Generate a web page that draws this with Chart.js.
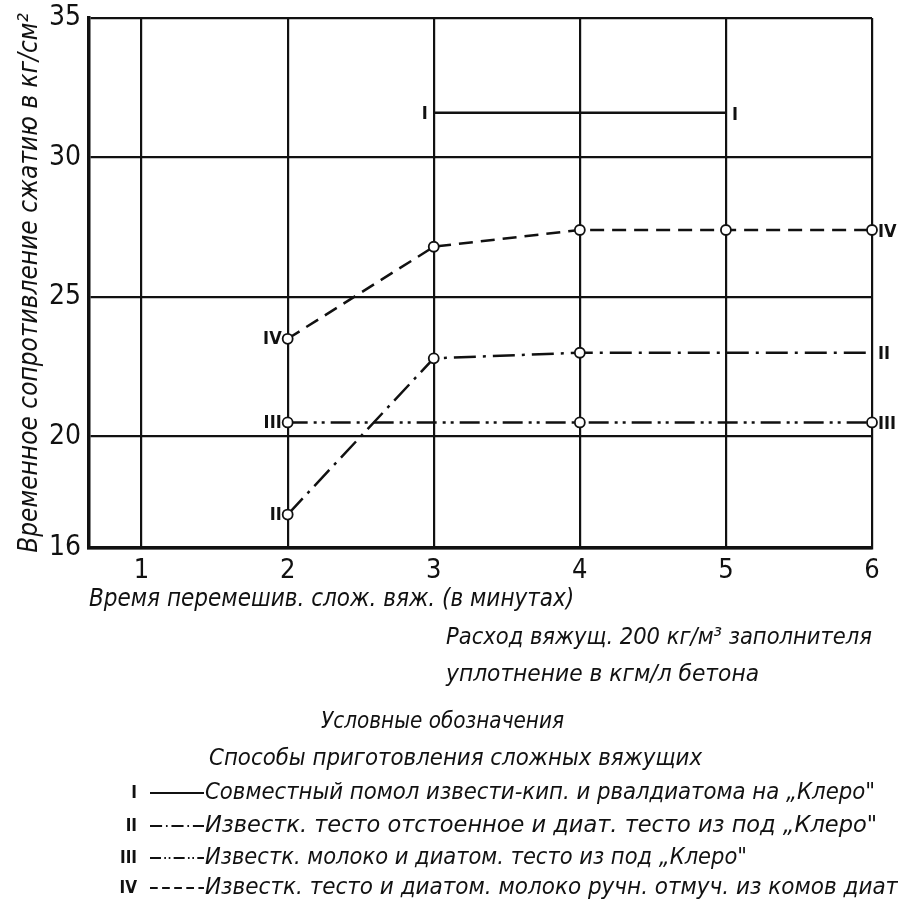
<!DOCTYPE html>
<html>
<head>
<meta charset="utf-8">
<script src="https://cdn.jsdelivr.net/npm/chart.js@4/dist/chart.umd.min.js"></script>
<style>
  html, body { margin: 0; padding: 0; background: #fff; }
  #wrap { width: 898px; height: 904px; }
</style>
</head>
<body>
<div id="wrap"><canvas id="strengthChart" width="898" height="904"></canvas></div>
<script>
// mixing time (minutes) and strength ticks
const mixTimes = [1, 2, 3, 4, 5, 6];
const strengthTicks = [16, 20, 25, 30, 35];

// series I - IV
const timeI = [3, 5];
const strengthI = [31.6, 31.6];
const timeII = [2, 3, 4, 5, 6];
const strengthII = [17.2, 22.8, 23.0, 23.0, 23.0];
const markII = [1, 1, 1, 0, 0];
const timeIII = [2, 4, 6];
const strengthIII = [20.5, 20.5, 20.5];
const markIII = [1, 1, 1];
const timeIV = [2, 3, 4, 5, 6];
const strengthIV = [23.5, 26.8, 27.4, 27.4, 27.4];
const markIV = [1, 1, 1, 1, 1];

const seriesNames = ["I", "II", "III", "IV"];
const seriesDash = [[], [22, 7, 3, 7], [20, 6, 3, 5, 3, 6], [14, 8]];
const legendTexts = [
  "Совместный помол извести-кип. и рвалдиатома на „Клеро\"",
  "Известк. тесто отстоенное и диат. тесто из под „Клеро\"",
  "Известк. молоко и диатом. тесто из под „Клеро\"",
  "Известк. тесто и диатом. молоко ручн. отмуч. из комов диат."
];

const handFont = "'DejaVu Sans Condensed', 'Liberation Sans Narrow', sans-serif";
const tickFont = "'Liberation Sans Narrow', 'DejaVu Sans Condensed', sans-serif";

function points(xs, ys) {
  return xs.map((x, i) => ({ x: x, y: ys[i] }));
}

function lineDataset(idx, xs, ys, marks) {
  return {
    label: seriesNames[idx],
    data: points(xs, ys),
    borderColor: "#111",
    borderWidth: 2.5,
    borderDash: seriesDash[idx],
    tension: 0,
    clip: false,
    pointRadius: marks ? marks.map((m) => (m ? 5 : 0)) : 0,
    pointBackgroundColor: "#fff",
    pointBorderColor: "#111",
    pointBorderWidth: 1.8,
  };
}

// draws text stretched or squeezed to a given width
function fitText(ctx, text, x, y, width) {
  const w = ctx.measureText(text).width;
  ctx.save();
  ctx.translate(x, y);
  ctx.scale(width / w, 1);
  ctx.fillText(text, 0, 0);
  ctx.restore();
}

// I/II/III/IV marks at both ends of each curve
const seriesLabels = {
  id: "seriesLabels",
  afterDatasetsDraw(chart) {
    const ctx = chart.ctx;
    ctx.save();
    ctx.font = "bold 18px " + tickFont;
    ctx.fillStyle = "#111";
    ctx.textBaseline = "middle";
    chart.data.datasets.forEach((ds, i) => {
      const pts = chart.getDatasetMeta(i).data;
      const first = pts[0];
      const last = pts[pts.length - 1];
      ctx.textAlign = "right";
      ctx.fillText(ds.label, first.x - 6, first.y + 1);
      ctx.textAlign = "left";
      ctx.fillText(ds.label, last.x + 6, last.y + 2);
    });
    ctx.restore();
  },
};

// notes and key under the chart
const notes = {
  id: "notes",
  afterDraw(chart) {
    const ctx = chart.ctx;
    ctx.save();
    ctx.fillStyle = "#111";
    ctx.strokeStyle = "#111";
    ctx.textBaseline = "middle";
    ctx.textAlign = "left";
    ctx.font = "italic 23px " + handFont;
    fitText(ctx, "Расход вяжущ. 200 кг/м³ заполнителя", 446, 638, 426);
    fitText(ctx, "уплотнение в кгм/л бетона", 446, 675, 313);
    fitText(ctx, "Условные обозначения", 321, 722, 243);
    fitText(ctx, "Способы приготовления сложных вяжущих", 209, 759, 493);

    const rowY = [793, 826, 858, 888];
    const rowW = [670, 672, 542, 700];
    legendTexts.forEach((text, i) => {
      const y = rowY[i];
      ctx.font = "bold 17px " + tickFont;
      ctx.textAlign = "right";
      ctx.fillText(seriesNames[i], 137, y + 1);
      ctx.lineWidth = 2.2;
      ctx.setLineDash(seriesDash[i].map((d) => d * 0.55));
      ctx.beginPath();
      ctx.moveTo(150, y);
      ctx.lineTo(204, y);
      ctx.stroke();
      ctx.setLineDash([]);
      ctx.textAlign = "left";
      ctx.font = "italic 23px " + handFont;
      fitText(ctx, text, 205, y, rowW[i]);
    });
    ctx.restore();
  },
};

const chart = new Chart(document.getElementById("strengthChart"), {
  type: "line",
  data: {
    datasets: [
      lineDataset(0, timeI, strengthI, null),
      lineDataset(1, timeII, strengthII, markII),
      lineDataset(2, timeIII, strengthIII, markIII),
      lineDataset(3, timeIV, strengthIV, markIV),
    ],
  },
  options: {
    responsive: false,
    animation: false,
    devicePixelRatio: 1,
    layout: { padding: { left: 0, top: 18, right: 26, bottom: 286 } },
    plugins: { legend: { display: false }, tooltip: { enabled: false } },
    scales: {
      x: {
        type: "linear",
        min: 0.64,
        max: 6,
        afterBuildTicks: (scale) => {
          scale.ticks = mixTimes.map((v) => ({ value: v }));
        },
        afterFit: (scale) => {
          scale.height = 70;
        },
        grid: { color: "#111", lineWidth: 2.2, drawTicks: false },
        border: { color: "#111", width: 3.5 },
        ticks: {
          color: "#111",
          padding: 7,
          font: { family: tickFont, size: 27 },
          callback: (v) => String(v),
        },
        title: {
          display: true,
          text: "Время перемешив. слож. вяж. (в минутах)",
          align: "start",
          color: "#111",
          font: { family: handFont, size: 24, style: "italic" },
          padding: { top: 0, bottom: 4 },
        },
      },
      y: {
        min: 16,
        max: 35,
        afterBuildTicks: (scale) => {
          scale.ticks = strengthTicks.map((v) => ({ value: v }));
        },
        afterFit: (scale) => {
          scale.width = 89;
          scale.paddingTop = 0;
          scale.paddingBottom = 0;
        },
        grid: { color: "#111", lineWidth: 2.2, drawTicks: false },
        border: { color: "#111", width: 3.5 },
        ticks: {
          color: "#111",
          padding: 8,
          font: { family: tickFont, size: 28, lineHeight: 1 },
          callback: (v) => String(v),
        },
        title: {
          display: true,
          text: "Временное сопротивление сжатию в кг/см²",
          color: "#111",
          font: { family: handFont, size: 26, style: "italic" },
          padding: { top: 15, bottom: 0 },
        },
      },
    },
  },
  plugins: [seriesLabels, notes],
});
</script>
</body>
</html>
